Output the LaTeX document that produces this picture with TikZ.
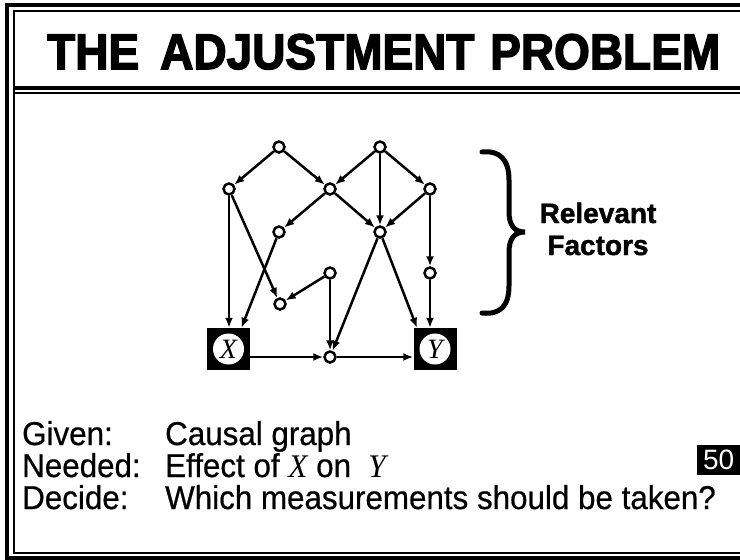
\documentclass[tikz,border=0pt]{standalone}
\usepackage{fontspec}
\setmainfont{Liberation Sans}
\newfontfamily\ttlfont[FakeBold=3]{Liberation Sans Bold}
\newfontfamily\relfont[FakeBold=1.5]{Liberation Sans Bold}
\newfontfamily\bodyfont[FakeBold=0.6]{Liberation Sans}
\newfontfamily\serfam{Liberation Serif}
\usetikzlibrary{arrows.meta}
\begin{document}
\begin{tikzpicture}[x=1pt,y=-1pt,
  dot/.style={circle,draw,line width=2.5pt,minimum size=11pt,inner sep=0pt,fill=white},
  boxnode/.style={rectangle,fill=black,minimum width=43pt,minimum height=42pt,inner sep=0pt,
     path picture={\fill[white] (path picture bounding box.center) circle (15.5pt);},
     font=\fontsize{28}{28}\selectfont\serfam\itshape},
  arr/.style={-{Latex[length=10pt,width=8pt]},line width=2.5pt},
  body/.style={anchor=base west,inner sep=0pt,xscale=0.95,font=\fontsize{33}{33}\selectfont\bodyfont},
  ttl/.style={anchor=base west,inner sep=0pt,xscale=0.92,font=\fontsize{50}{50}\selectfont\ttlfont},
  rel/.style={anchor=base,inner sep=0pt,font=\fontsize{28}{28}\selectfont\relfont}]
\useasboundingbox (0,0) rectangle (740,560);
% frame
\draw[line width=4pt] (7,3) -- (7,560);
\draw[line width=4pt] (5,5) -- (740,5);
\draw[line width=4pt] (5,558) -- (740,558);
\draw[line width=2pt] (14,10) -- (14,554);
\draw[line width=2pt] (14,11) -- (740,11);
\draw[line width=2pt] (14,553) -- (740,553);
\draw[line width=3.5pt] (14,88) -- (740,88);
\draw[line width=2pt] (14,93) -- (740,93);
% title
\node[ttl] (t1) at (47,69) {THE};
\node[ttl] (t2) at (160,69) {ADJUSTMENT};
\node[ttl] (t3) at (490,69) {PROBLEM};
% graph nodes
\node[dot] (A) at (279,147) {};
\node[dot] (B) at (380,147) {};
\node[dot] (C) at (229,189) {};
\node[dot] (D) at (330,189) {};
\node[dot] (E) at (430,189) {};
\node[dot] (F) at (279,232) {};
\node[dot] (G) at (380,232) {};
\node[dot] (I) at (330,273) {};
\node[dot] (H) at (430,273) {};
\node[dot] (J) at (280,304) {};
\node[dot] (M) at (330,357) {};
\node[boxnode] (X) at (228.5,349) {X};
\node[boxnode] (Y) at (435,349) {Y};
% edges
\draw[arr] (A) -- (C);
\draw[arr] (A) -- (D);
\draw[arr] (B) -- (D);
\draw[arr] (B) -- (G);
\draw[arr] (B) -- (E);
\draw[arr] (D) -- (F);
\draw[arr] (D) -- (G);
\draw[arr] (E) -- (G);
\draw[arr] (C.south) -- (C.south |- X.north);
\draw[arr] (C) -- (J);
\draw[arr] (F) -- ([xshift=13pt]X.north);
\draw[arr] (I) -- (J);
\draw[arr] (I) -- (M);
\draw[arr] (G) -- (M);
\draw[arr] (G) -- ([xshift=-18pt]Y.north);
\draw[arr] (E) -- (H);
\draw[arr] (H.south) -- (H.south |- Y.north);
\draw[arr] (X.east |- M) -- (M);
\draw[arr] (M) -- (M -| Y.west);
% brace
\draw[line width=5pt,line cap=round] (482,152) .. controls (500,150) and (509,160) .. (509,180) -- (509,212) .. controls (509,226) and (515,232) .. (525,232) .. controls (515,232) and (509,238) .. (509,252) -- (509,286) .. controls (509,306) and (500,315) .. (482,313);
\node[rel] (rl) at (598,223) {Relevant};
\node[rel] (fc) at (598,255) {Factors};
% bottom text
\node[body] (g1) at (22,445) {Given:};
\node[body] (g2) at (165,445) {Causal graph};
\node[body] (n1) at (22,477) {Needed:};
\node[body] (n2) at (165,477) {Effect of {\serfam\itshape X} on \ {\serfam\itshape Y}};
\node[body] (d1) at (22,509) {Decide:};
\node[body] (d2) at (165,509) {Which measurements should be taken?};
\node[fill=black,text=white,anchor=north west,minimum width=43pt,minimum height=30pt,inner sep=0pt,font=\fontsize{28}{28}\selectfont] (fifty) at (697,445) {50};
\end{tikzpicture}
\end{document}
